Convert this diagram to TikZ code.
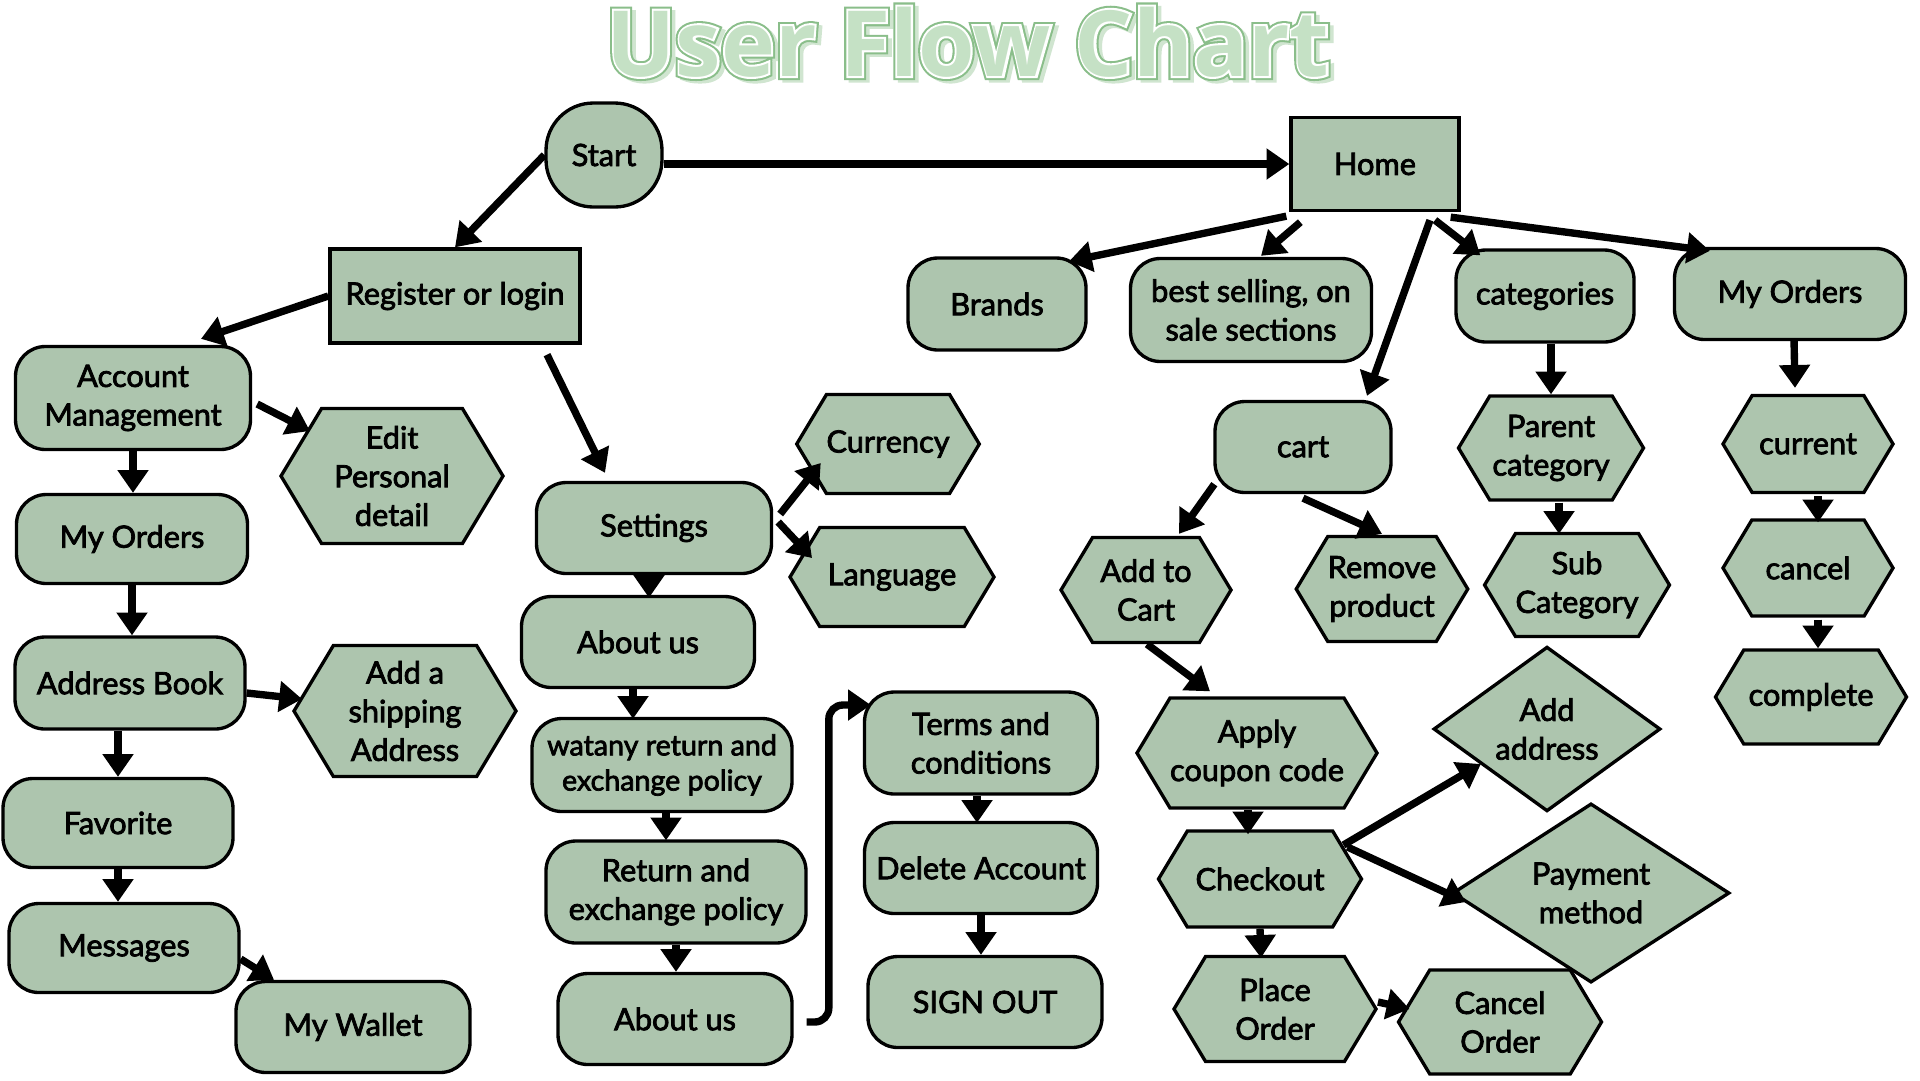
\documentclass[tikz,border=0pt]{standalone}
\usepackage{fontspec}
\setmainfont{Lato}
\newfontfamily\titlefont{Open Sans}
\usetikzlibrary{arrows.meta,calc,shapes.geometric,shapes.symbols}
\definecolor{sage}{RGB}{173,197,174}
\definecolor{titlefill}{RGB}{197,225,197}
\definecolor{titleline}{RGB}{138,190,138}
\definecolor{titleshade}{RGB}{208,229,208}
\newcommand{\titletext}[1]{\titlefont\bfseries\fontsize{52}{58}\selectfont\addfontfeature{FakeBold=#1}}

\begin{document}
\begin{tikzpicture}[x=0.02cm,y=-0.02cm,
  base/.style={draw,line width=1.9pt,fill=sage,align=center,inner sep=0pt,
    font=\fontsize{17.5}{22}\selectfont\addfontfeature{FakeBold=2.5}},
  wh/.style 2 args={minimum width=#1*0.02cm,minimum height=#2*0.02cm},
  box/.style={base,rectangle,rounded corners=17pt},
  rect/.style={base,rectangle},
  hexa/.style={base,signal,signal to=east and west,signal pointer angle=118},
  dia/.style={base,diamond},
  arr/.style={line width=4.2pt,-{Triangle[length=13pt,width=17pt]}}]
\useasboundingbox (0,0) rectangle (1920,1080);
\fill[white] (0,0) rectangle (1920,1080);

\node[anchor=base,font=\titletext{8},text=titleshade] (titleshadow) at (972,79) {User Flow Chart};
\node[anchor=base,font=\titletext{9},text=titleline] (titleedge) at (968,76) {User Flow Chart};
\node[anchor=base,font=\titletext{4.5},text=white] (titlewhite) at (968,76) {User Flow Chart};
\node[anchor=base,font=\titletext{0},text=titlefill] (title) at (968,76) {User Flow Chart};

\node[box,rounded corners=27pt,wh={116}{104}] (start) at (604,155) {Start};
\node[rect,wh={168}{93}] (home) at (1375,164) {Home};
\node[rect,wh={250}{94}] (reg) at (455,296) {Register or login};
\node[box,wh={178}{92}] (brands) at (997,304) {Brands};
\node[box,wh={241}{103}] (best) at (1251,310) {best selling, on\\sale sections};
\node[box,wh={178}{92}] (cat) at (1545,296) {categories};
\node[box,wh={231}{91}] (ordr) at (1790,294) {My Orders};
\node[box,wh={235}{103}] (acm) at (133,398) {Account\\Management};
\node[hexa,wh={222}{135}] (edit) at (392,476) {Edit\\Personal\\detail};
\node[box,wh={231}{89}] (ordl) at (132,539) {My Orders};
\node[box,wh={230}{92}] (addr) at (130,683) {Address Book};
\node[hexa,wh={222}{131}] (ship) at (405,711) {Add a\\shipping\\Address};
\node[box,wh={230}{89}] (fav) at (118,823) {Favorite};
\node[box,wh={230}{89}] (msg) at (124,948) {Messages};
\node[box,wh={234}{91}] (wallet) at (353,1027) {My Wallet};
\node[box,wh={235}{91}] (set) at (654,528) {Settings};
\node[hexa,wh={182}{99}] (cur) at (888,444) {Currency};
\node[hexa,wh={204}{99}] (lang) at (892,577) {Language};
\node[box,wh={233}{91}] (about1) at (638,642) {About us};
\node[box,wh={260}{93},font=\fontsize{16.3}{20}\selectfont\addfontfeature{FakeBold=2.5}] (watany) at (662,765) {watany return and\\exchange policy};
\node[box,wh={260}{102}] (ret) at (676,892) {Return and\\exchange policy};
\node[box,wh={234}{91}] (about2) at (675,1019) {About us};
\node[box,wh={233}{102}] (terms) at (981,743) {Terms and\\conditions};
\node[box,wh={233}{91}] (del) at (981,868) {Delete Account};
\node[box,wh={234}{91}] (signout) at (985,1002) {SIGN OUT};
\node[box,wh={176}{91}] (cart) at (1303,447) {cart};
\node[hexa,wh={170}{105}] (addc) at (1146,590) {Add to\\Cart};
\node[hexa,wh={170}{105}] (rem) at (1382,589) {Remove\\product};
\node[hexa,wh={185}{104}] (par) at (1551,448) {Parent\\category};
\node[hexa,wh={184}{103}] (sub) at (1577,585) {Sub\\Category};
\node[hexa,wh={170}{97}] (curr) at (1808,444) {current};
\node[hexa,wh={170}{96}] (canc) at (1808,568) {cancel};
\node[hexa,wh={191}{94}] (comp) at (1811,697) {complete};
\node[hexa,wh={239}{110}] (coupon) at (1257,753) {Apply\\coupon code};
\node[dia,wh={227}{158}] (addaddr) at (1547,729) {Add\\address};
\node[hexa,wh={203}{96}] (chk) at (1260,879) {Checkout};
\node[dia,wh={277}{159}] (pay) at (1591,893) {Payment\\method};
\node[hexa,wh={202}{105}] (place) at (1275,1009) {Place\\Order};
\node[hexa,wh={203}{104}] (cancord) at (1500,1022) {Cancel\\Order};

\draw[arr] (start.east |- home.west) -- (home.west);
\draw[arr] (start.west) -- (reg.north);
\draw[arr] (reg.west) -- ($(acm.north)+(68,-6)$);
\draw[arr] ($(reg.south)+(92,10)$) -- ($(set.north)+(-49,-8)$);
\draw[arr] ($(acm.east)+(5,6)$) -- ($(edit.center)+(-82,-45)$);
\draw[arr] (acm.south) -- (acm.south |- ordl.north);
\draw[arr] (ordl.south) -- (ordl.south |- addr.north);
\draw[arr] ($(addr.east)+(0,10)$) -- ($(ship.west)+(10,-12)$);
\draw[arr] (fav.north |- addr.south) -- (fav.north);
\draw[arr] (fav.south) -- (fav.south |- msg.north);
\draw[arr] ($(msg.east)+(0,11)$) -- ($(wallet.north)+(-79,0)$);
\draw[arr] ($(set.east)+(7,-14)$) -- ($(cur.west)+(26,19)$);
\draw[arr] ($(set.east)+(5,-6)$) -- ($(lang.west)+(24,-19)$);
\draw[arr] ($(set.south)+(-5,0)$) -- ($(about1.north)+(11,3)$);
\draw[arr] ($(about1.south)+(-5,0)$) -- ($(watany.north)+(-29,2)$);
\draw[arr] ($(watany.south)+(4,0)$) -- ($(ret.north)+(-10,1)$);
\draw[arr] (ret.south) -- (ret.south |- about2.north);
\draw[arr,rounded corners=8pt] ($(about2.east)+(13,3)$) -| ($(terms.west)+(-34,-38)$) -- ($(terms.west)+(8,-38)$);
\draw[arr] ($(terms.south)+(-4,0)$) -- ($(del.north)+(-4,2)$);
\draw[arr] (del.south) -- (del.south |- signout.north);
\draw[arr] ($(home.south west)+(-3,4)$) -- ($(brands.north)+(72,5)$);
\draw[arr] ($(home.south west)+(11,10)$) -- ($(best.north)+(10,-1)$);
\draw[arr] ($(home.south)+(55,8)$) -- ($(cart.north)+(64,-4)$);
\draw[arr] ($(home.south)+(60,8)$) -- ($(cat.north west)+(26,7)$);
\draw[arr] ($(home.south east)+(-10,5)$) -- ($(ordr.north west)+(37,4)$);
\draw[arr] ($(cat.south)+(6,0)$) -- (par.north);
\draw[arr] ($(ordr.south)+(4,-2)$) -- ($(curr.north)+(-13,-6)$);
\draw[arr] ($(curr.south)+(10,2)$) -- ($(canc.north)+(10,4)$);
\draw[arr] ($(canc.south)+(10,2)$) -- ($(comp.north)+(7,0)$);
\draw[arr] ($(cart.south west)+(1,-10)$) -- ($(addc.north)+(33,-2)$);
\draw[arr] ($(cart.south)+(0,4)$) -- ($(rem.north)+(0,-1)$);
\draw[arr] ($(par.south)+(8,1)$) -- ($(sub.north)+(-18,2)$);
\draw[arr] ($(addc.south)+(1,0)$) -- ($(coupon.north)+(-47,-5)$);
\draw[arr] ($(coupon.south)+(-9,0)$) -- ($(chk.north)+(-12,5)$);
\draw[arr] ($(chk.east)+(-20,-34)$) -- ($(addaddr.west)+(49,35)$);
\draw[arr] ($(chk.east)+(-16,-32)$) -- ($(pay.west)+(15,9)$);
\draw[arr] (chk.south) -- ($(place.north)+(-14,3)$);
\draw[arr] ($(place.east)+(0,-7)$) -- ($(cancord.west)+(13,-13)$);
\end{tikzpicture}
\end{document}
